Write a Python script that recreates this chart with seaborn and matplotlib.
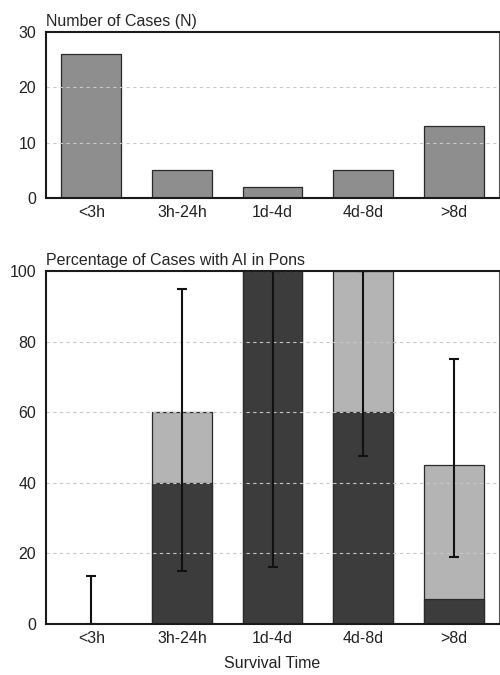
import numpy as np
import seaborn as sns
import matplotlib.pyplot as plt

# survival time groups
cats = ["<3h", "3h-24h", "1d-4d", "4d-8d", ">8d"]
n_cases = [26, 5, 2, 5, 13]

# percentage of cases with AI in pons
pct_dark = [0, 40, 100, 60, 7]
pct_total = [0, 60, 100, 100, 45]
err_low = [0, 15, 16, 47.5, 19]
err_high = [13.5, 95, 100, 100, 75]
err_mid = [0, 40, 100, 60, 45]

sns.set_style("white")
plt.rcParams['font.family'] = ['Liberation Sans', 'DejaVu Sans']
plt.rcParams['font.size'] = 11

fig = plt.figure(figsize=(5, 6.75), dpi=100)
ax1 = fig.add_axes([0.092, 0.7067, 0.906, 0.2459])
ax2 = fig.add_axes([0.092, 0.0756, 0.906, 0.5229])


def style_axes(ax, ymax, step):
    ax.set_ylim(0, ymax)
    ax.set_xlim(-0.5, 4.5)
    ax.set_yticks(np.arange(0, ymax + 1, step))
    ax.yaxis.grid(True, linestyle=(0, (3, 3)), color='#c8c8c8', linewidth=0.8)
    ax.set_axisbelow(False)
    for s in ["left", "bottom", "top"]:
        ax.spines[s].set_linewidth(1.5)
        ax.spines[s].set_color('#1a1a1a')
        ax.spines[s].set_zorder(10)
    ax.spines["right"].set_linewidth(0.8)
    ax.spines["right"].set_color('#555555')
    ax.spines["right"].set_zorder(10)
    ax.tick_params(axis='both', length=0, labelsize=11.5, colors='#222222')
    ax.tick_params(axis='y', pad=7)
    ax.tick_params(axis='x', pad=5)
    ax.set_ylabel("")


# top panel
sns.barplot(x=cats, y=n_cases, color='#8e8e8e', edgecolor='#2a2a2a',
            linewidth=0.9, width=0.66, saturation=1, ax=ax1)
style_axes(ax1, 30, 10)
ax1.set_title("Number of Cases (N)", loc='left', fontsize=11.5, pad=4)

# bottom panel: stacked bars
sns.barplot(x=cats, y=pct_total, color='#b4b4b4', edgecolor='#2a2a2a',
            linewidth=0.9, width=0.66, saturation=1, ax=ax2)
sns.barplot(x=cats, y=pct_dark, color='#3c3c3c', edgecolor='#2a2a2a',
            linewidth=0.9, width=0.66, saturation=1, ax=ax2)
xs = np.arange(len(cats))
mid = np.array(err_mid)
yerr = [mid - np.array(err_low), np.array(err_high) - mid]
ax2.errorbar(xs, mid, yerr=yerr, fmt='none', ecolor='#111111',
             elinewidth=1.5, capsize=3.8, capthick=1.5, clip_on=True, zorder=5)
style_axes(ax2, 100, 20)
ax2.set_title("Percentage of Cases with AI in Pons", loc='left', fontsize=11.5, pad=4)
ax2.set_xlabel("Survival Time", fontsize=11.5, labelpad=7, color='#222222')

fig.savefig("out.png", dpi=100)
